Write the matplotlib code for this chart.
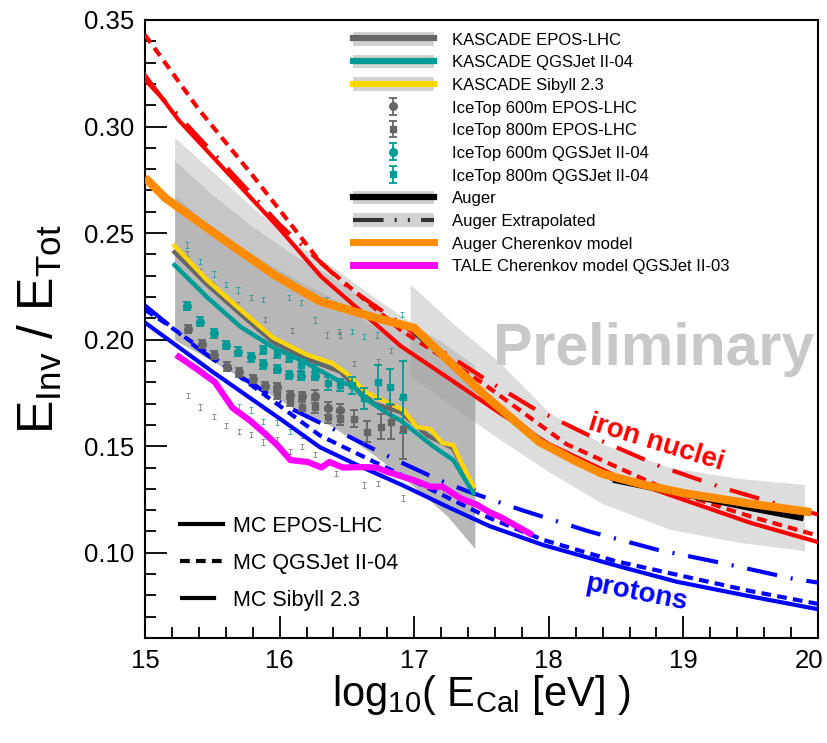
import numpy as np
import matplotlib
matplotlib.use("Agg")
import matplotlib.pyplot as plt
from matplotlib.lines import Line2D
from matplotlib.patches import Patch
from matplotlib.ticker import MultipleLocator, FormatStrFormatter
from matplotlib.transforms import ScaledTranslation

plt.rcParams['font.family'] = ['Liberation Sans', 'DejaVu Sans']
plt.rcParams['mathtext.fontset'] = 'custom'
plt.rcParams['mathtext.rm'] = 'Liberation Sans'
plt.rcParams['mathtext.it'] = 'Liberation Sans'
plt.rcParams['lines.scale_dashes'] = False

# ---------------------------------------------------------------- MC curves
red_epos_x = [15.0, 15.25, 15.64, 16.0, 16.31, 16.9, 17.3, 17.64, 18.0, 18.5, 18.95, 19.5, 20.0]
red_epos_y = [0.324, 0.303, 0.2765, 0.252, 0.2295, 0.197, 0.180, 0.1654, 0.151, 0.136, 0.126, 0.114, 0.105]
red_qgs_x = [15.0, 15.4, 15.8, 16.31, 16.9, 17.5, 18.13, 18.88, 19.5, 20.0]
red_qgs_y = [0.343, 0.308, 0.277, 0.2358, 0.2045, 0.180, 0.151, 0.1295, 0.117, 0.108]
red_sib_x = [15.0, 15.5, 16.0, 16.5, 17.0, 17.27, 17.54, 17.88, 18.3, 18.83, 19.29, 19.8, 20.0]
red_sib_y = [0.322, 0.288, 0.254, 0.225, 0.203, 0.192, 0.181, 0.168, 0.155, 0.1405, 0.1305, 0.121, 0.118]

blue_epos_x = [15.0, 15.5, 16.0, 16.3, 16.6, 16.92, 17.25, 17.56, 17.96, 18.5, 18.95, 19.5, 20.0]
blue_epos_y = [0.208, 0.185, 0.163, 0.1495, 0.1405, 0.1315, 0.1215, 0.1125, 0.1036, 0.094, 0.0864, 0.0795, 0.0735]
blue_qgs_x = [15.0, 15.15, 15.5, 16.0, 16.3, 16.92, 17.56, 17.96, 18.5, 19.0, 19.5, 20.0]
blue_qgs_y = [0.214, 0.2078, 0.192, 0.169, 0.155, 0.136, 0.1163, 0.106, 0.096, 0.089, 0.082, 0.076]
blue_sib_x = [15.0, 15.37, 15.59, 15.83, 16.04, 16.3, 16.5, 16.75, 16.95, 17.19, 17.39, 17.8, 18.3, 18.8, 19.3, 19.8, 20.0]
blue_sib_y = [0.216, 0.197, 0.187, 0.178, 0.169, 0.161, 0.155, 0.147, 0.141, 0.134, 0.129, 0.120, 0.110, 0.1015, 0.095, 0.088, 0.086]

# ---------------------------------------------------------------- KASCADE
kas_band_x = [15.22, 15.5, 15.8, 16.1, 16.4, 16.7, 17.0, 17.25, 17.45]
kas_band_lo = [0.200, 0.190, 0.179, 0.168, 0.159, 0.146, 0.131, 0.117, 0.102]
kas_sib_up = [0.295, 0.279, 0.262, 0.246, 0.234, 0.220, 0.207, 0.197, 0.188]
kas_epos_up = [0.284, 0.268, 0.253, 0.240, 0.229, 0.215, 0.201, 0.190, 0.180]
kas_qgs_up = [0.268, 0.252, 0.240, 0.229, 0.219, 0.206, 0.194, 0.183, 0.172]

kas_epos_x = [15.22, 15.46, 15.71, 15.95, 16.2, 16.45, 16.7, 16.9, 17.1, 17.29, 17.44]
kas_epos_y = [0.241, 0.226, 0.212, 0.199, 0.191, 0.185, 0.170, 0.166, 0.155, 0.149, 0.130]
kas_qgs_x = [15.22, 15.46, 15.71, 15.95, 16.2, 16.43, 16.55, 16.62, 16.8, 16.9, 17.02, 17.14, 17.29, 17.44]
kas_qgs_y = [0.235, 0.220, 0.206, 0.1965, 0.189, 0.181, 0.178, 0.173, 0.1655, 0.162, 0.156, 0.150, 0.1435, 0.128]
kas_sib_x = [15.22, 15.46, 15.71, 15.95, 16.2, 16.39, 16.5, 16.65, 16.75, 16.92, 17.02, 17.12, 17.21, 17.29, 17.34, 17.44]
kas_sib_y = [0.244, 0.228, 0.214, 0.201, 0.193, 0.189, 0.184, 0.175, 0.172, 0.167, 0.159, 0.158, 0.1515, 0.1505, 0.1435, 0.131]

# ---------------------------------------------------------------- IceTop
it600_epos_x = [15.32, 15.42, 15.51, 15.61, 15.7, 15.8, 15.89, 15.98, 16.08, 16.17, 16.26, 16.36, 16.45]
it600_epos_y = [0.2049, 0.198, 0.1928, 0.1873, 0.1847, 0.1815, 0.1783, 0.1776, 0.174, 0.1735, 0.1735, 0.1678, 0.167]
it600_epos_e = [0.002, 0.002, 0.002, 0.002, 0.002, 0.002, 0.002, 0.002, 0.002, 0.002, 0.003, 0.003, 0.003]
it800_epos_x = [15.98, 16.08, 16.17, 16.26, 16.36, 16.45, 16.55, 16.65, 16.75, 16.83, 16.92]
it800_epos_y = [0.1743, 0.171, 0.1686, 0.1686, 0.1638, 0.163, 0.163, 0.1568, 0.1592, 0.1615, 0.158]
it800_epos_e = [0.002, 0.002, 0.002, 0.003, 0.003, 0.003, 0.004, 0.005, 0.006, 0.008, 0.014]
it600_qgs_x = [15.31, 15.41, 15.51, 15.6, 15.69, 15.79, 15.88, 15.98, 16.07, 16.16, 16.26]
it600_qgs_y = [0.2158, 0.2084, 0.203, 0.1975, 0.1944, 0.1917, 0.1884, 0.1862, 0.1834, 0.1829, 0.183]
it600_qgs_e = [0.002, 0.002, 0.002, 0.002, 0.002, 0.002, 0.002, 0.002, 0.002, 0.002, 0.002]
it800_qgs_x = [15.88, 15.98, 16.07, 16.16, 16.26, 16.36, 16.45, 16.54, 16.63, 16.73, 16.82, 16.92]
it800_qgs_y = [0.1951, 0.1936, 0.1914, 0.1881, 0.185, 0.1795, 0.1787, 0.1787, 0.1725, 0.1803, 0.178, 0.1732]
it800_qgs_e = [0.002, 0.002, 0.002, 0.003, 0.003, 0.003, 0.003, 0.004, 0.005, 0.008, 0.008, 0.017]

# faint IceTop points
faint_teal_x = [15.31, 15.41, 15.51, 15.6, 15.69, 15.79, 15.88, 16.07, 16.16, 16.26, 16.35, 16.44, 16.54, 16.63, 16.72, 16.91,
                15.7, 15.79, 15.88, 15.98, 16.08, 16.17]
faint_teal_y = [0.2444, 0.2366, 0.2308, 0.2257, 0.2233, 0.2199, 0.2189, 0.2199, 0.2173, 0.2092, 0.2186, 0.2037, 0.2037, 0.2014, 0.2022, 0.2116,
                0.1684, 0.167, 0.1614, 0.161, 0.1567, 0.155]
faint_gray_x = [15.31, 15.41, 15.5, 15.69, 15.89, 16.09, 16.35, 16.45, 16.55, 16.73, 16.83,
                15.32, 15.41, 15.51, 15.6, 15.7, 15.79, 15.88, 15.98, 16.08, 16.17, 16.26, 16.42, 16.63, 16.73, 16.92]
faint_gray_y = [0.2405, 0.2319, 0.226, 0.2163, 0.2096, 0.2045, 0.2022, 0.2022, 0.1889, 0.1897, 0.1951,
                0.174, 0.1684, 0.164, 0.1597, 0.157, 0.1557, 0.152, 0.153, 0.1477, 0.150, 0.146, 0.1374, 0.1318, 0.1323, 0.1257]

# ---------------------------------------------------------------- Auger / TALE
aug_band_x = [16.97, 17.3, 17.64, 18.0, 18.4, 18.9, 19.4, 19.9]
aug_band_up = [0.226, 0.207, 0.189, 0.166, 0.151, 0.140, 0.135, 0.132]
aug_band_lo = [0.183, 0.168, 0.153, 0.138, 0.123, 0.111, 0.105, 0.101]
aug_x = [18.5, 19.12, 19.5, 19.87]
aug_y = [0.134, 0.126, 0.121, 0.1165]
aug_ext_x = [17.0, 17.2, 17.5, 18.0, 18.4, 18.5]
aug_ext_y = [0.203, 0.193, 0.175, 0.150, 0.136, 0.134]
aug_cher_x = [15.0, 15.15, 15.56, 15.97, 16.3, 16.67, 17.0, 17.54, 17.93, 18.2, 18.4, 18.7, 19.0, 19.5, 19.95]
aug_cher_y = [0.276, 0.2665, 0.248, 0.230, 0.218, 0.211, 0.2055, 0.173, 0.152, 0.143, 0.137, 0.132, 0.128, 0.123, 0.119]
tale_x = [15.25, 15.39, 15.52, 15.65, 15.78, 15.89, 15.99, 16.08, 16.21, 16.31, 16.37, 16.47, 16.62, 16.72, 16.8,
          17.0, 17.12, 17.21, 17.34, 17.47, 17.56, 17.64, 17.86]
tale_y = [0.192, 0.186, 0.180, 0.168, 0.162, 0.156, 0.150, 0.1435, 0.1426, 0.140, 0.1426, 0.140, 0.1402, 0.140, 0.138,
          0.134, 0.131, 0.131, 0.1257, 0.1224, 0.119, 0.1168, 0.109]

# colours / styles
c_red, c_blue = '#ff0000', '#0000ff'
c_kgray, c_teal, c_yellow = '#666666', '#009b96', '#ffd500'
c_orange, c_magenta = '#ff8c00', '#ff00ff'
dashed = (0, (7, 4.5))
dashdot = (0, (22, 10, 1.5, 10))
extrap = (0, (22, 8, 1.5, 8, 1.5, 8))


def main():
    fig = plt.figure(figsize=(8.27, 7.43), dpi=100)
    ax = fig.add_axes([145 / 827, 1 - 638 / 743, 673 / 827, 618 / 743])

    # bands
    for up in (kas_sib_up, kas_epos_up, kas_qgs_up):
        ax.fill_between(kas_band_x, kas_band_lo, up, color='#999999', alpha=0.33, lw=0, zorder=1)
    ax.fill_between(aug_band_x, aug_band_lo, aug_band_up, color='#999999', alpha=0.33, lw=0, zorder=1)

    # faint IceTop points
    ax.errorbar(faint_teal_x, faint_teal_y, yerr=0.0012, fmt='none', ecolor=c_teal,
                elinewidth=0.7, capsize=1.5, capthick=0.7, alpha=0.7, zorder=2)
    ax.errorbar(faint_gray_x, faint_gray_y, yerr=0.0012, fmt='none', ecolor=c_kgray,
                elinewidth=0.7, capsize=1.5, capthick=0.7, alpha=0.7, zorder=2)

    # MC lines
    ax.plot(red_epos_x, red_epos_y, color=c_red, lw=3, zorder=4)
    ax.plot(red_qgs_x, red_qgs_y, color=c_red, lw=3, linestyle=dashed, zorder=4)
    ax.plot(red_sib_x, red_sib_y, color=c_red, lw=3, linestyle=dashdot, zorder=4)
    ax.plot(blue_epos_x, blue_epos_y, color=c_blue, lw=3, zorder=4)
    ax.plot(blue_qgs_x, blue_qgs_y, color=c_blue, lw=3, linestyle=dashed, zorder=4)
    ax.plot(blue_sib_x, blue_sib_y, color=c_blue, lw=3, linestyle=dashdot, zorder=4)

    # KASCADE
    ax.plot(kas_epos_x, kas_epos_y, color=c_kgray, lw=3.2, zorder=5)
    ax.plot(kas_sib_x, kas_sib_y, color=c_yellow, lw=3.2, zorder=5)
    ax.plot(kas_qgs_x, kas_qgs_y, color=c_teal, lw=3.2, zorder=5)

    # IceTop
    kw = dict(elinewidth=1.3, capsize=3, capthick=1.3, zorder=6)
    h600e = ax.errorbar(it600_epos_x, it600_epos_y, yerr=it600_epos_e, fmt='o', ms=5.5,
                        color=c_kgray, **kw)
    h800e = ax.errorbar(it800_epos_x, it800_epos_y, yerr=it800_epos_e, fmt='s', ms=5,
                        color=c_kgray, **kw)
    h600q = ax.errorbar(it600_qgs_x, it600_qgs_y, yerr=it600_qgs_e, fmt='o', ms=5.5,
                        color=c_teal, **kw)
    h800q = ax.errorbar(it800_qgs_x, it800_qgs_y, yerr=it800_qgs_e, fmt='s', ms=5,
                        color=c_teal, **kw)

    # Auger / TALE
    ax.plot(aug_ext_x, aug_ext_y, color='#333333', lw=3, linestyle=extrap, zorder=7)
    ax.plot(aug_x, aug_y, color='black', lw=4.5, zorder=7)
    ax.plot(aug_cher_x, aug_cher_y, color=c_orange, lw=6, zorder=8, solid_capstyle='butt')
    ax.plot(tale_x, tale_y, color=c_magenta, lw=4.5, zorder=8)

    # axes cosmetics
    ax.set_xlim(15, 20)
    ax.set_ylim(0.06, 0.35)
    ax.xaxis.set_major_locator(MultipleLocator(1))
    ax.xaxis.set_minor_locator(MultipleLocator(0.2))
    ax.yaxis.set_major_locator(MultipleLocator(0.05))
    ax.yaxis.set_minor_locator(MultipleLocator(0.01))
    ax.yaxis.set_major_formatter(FormatStrFormatter('%.2f'))
    ax.tick_params(which='major', direction='in', length=16, width=1.3, labelsize=18.5, pad=8)
    ax.tick_params(which='minor', direction='in', length=8, width=1.3)
    ax.tick_params(top=False, right=False, which='both')
    for s in ax.spines.values():
        s.set_linewidth(1.5)

    ax.set_xlabel(r'$\mathregular{log_{10}(\ E_{Cal}\ [eV]\ )}$', fontsize=30, labelpad=0)
    ax.set_ylabel(r'$\mathregular{E_{Inv}\ /\ E_{Tot}}$', fontsize=36, labelpad=14)

    ax.text(18.78, 0.188, 'Preliminary', fontsize=42.5, fontweight='bold', color='#c8c8c8',
            ha='center', va='baseline', zorder=3)
    ax.text(18.8, 0.1515, 'iron nuclei', fontsize=20, fontweight='bold', color=c_red,
            rotation=-17, ha='center', va='center', rotation_mode='anchor', zorder=9)
    ax.text(18.65, 0.081, 'protons', fontsize=20, fontweight='bold', color=c_blue,
            rotation=-11, ha='center', va='center', rotation_mode='anchor', zorder=9)

    # legend 1
    bandc = '#d2d2d2'
    handles = [
        (Patch(facecolor=bandc, edgecolor='none'), Line2D([], [], color=c_kgray, lw=4.5)),
        (Patch(facecolor=bandc, edgecolor='none'), Line2D([], [], color=c_teal, lw=4.5)),
        (Patch(facecolor=bandc, edgecolor='none'), Line2D([], [], color=c_yellow, lw=4.5)),
        h600e, h800e, h600q, h800q,
        (Patch(facecolor=bandc, edgecolor='none'), Line2D([], [], color='black', lw=4.5)),
        (Patch(facecolor=bandc, edgecolor='none'), Line2D([], [], color='#333333', lw=3, linestyle=extrap)),
        Line2D([], [], color=c_orange, lw=5),
        Line2D([], [], color=c_magenta, lw=5),
    ]
    labels = ['KASCADE EPOS-LHC', 'KASCADE QGSJet II-04', 'KASCADE Sibyll 2.3',
              'IceTop 600m EPOS-LHC', 'IceTop 800m EPOS-LHC',
              'IceTop 600m QGSJet II-04', 'IceTop 800m QGSJet II-04',
              'Auger', 'Auger Extrapolated', 'Auger Cherenkov model',
              'TALE Cherenkov model QGSJet II-03']
    leg1 = ax.legend(handles, labels, loc='upper left', bbox_to_anchor=(0.3086, 0.9806),
                     frameon=False, fontsize=12, handlelength=4.85, handleheight=0.9,
                     handletextpad=1.08, labelspacing=0.42, borderpad=0, borderaxespad=0)
    ax.add_artist(leg1)

    # legend 2
    mc_handles = [Line2D([], [], color='black', lw=3),
                  Line2D([], [], color='black', lw=3, linestyle=dashed),
                  Line2D([], [], color='black', lw=3, linestyle=(0, (26, 10, 1.5, 10)))]
    mc_labels = ['MC EPOS-LHC', 'MC QGSJet II-04', 'MC Sibyll 2.3']
    ax.legend(mc_handles, mc_labels, loc='upper left', bbox_to_anchor=(0.052, 0.198),
              frameon=False, fontsize=15.5, handlelength=2.0, handletextpad=0.47,
              labelspacing=0.75, borderpad=0, borderaxespad=0)

    # nudge the last x label inside the canvas, like the original
    fig.canvas.draw()
    for tick in ax.xaxis.get_major_ticks():
        if abs(tick.get_loc() - 20) < 1e-6:
            lab = tick.label1
            lab.set_transform(lab.get_transform() + ScaledTranslation(-9 / 100, 0, fig.dpi_scale_trans))

    fig.savefig('out.png', dpi=100)


if __name__ == "__main__":
    main()
